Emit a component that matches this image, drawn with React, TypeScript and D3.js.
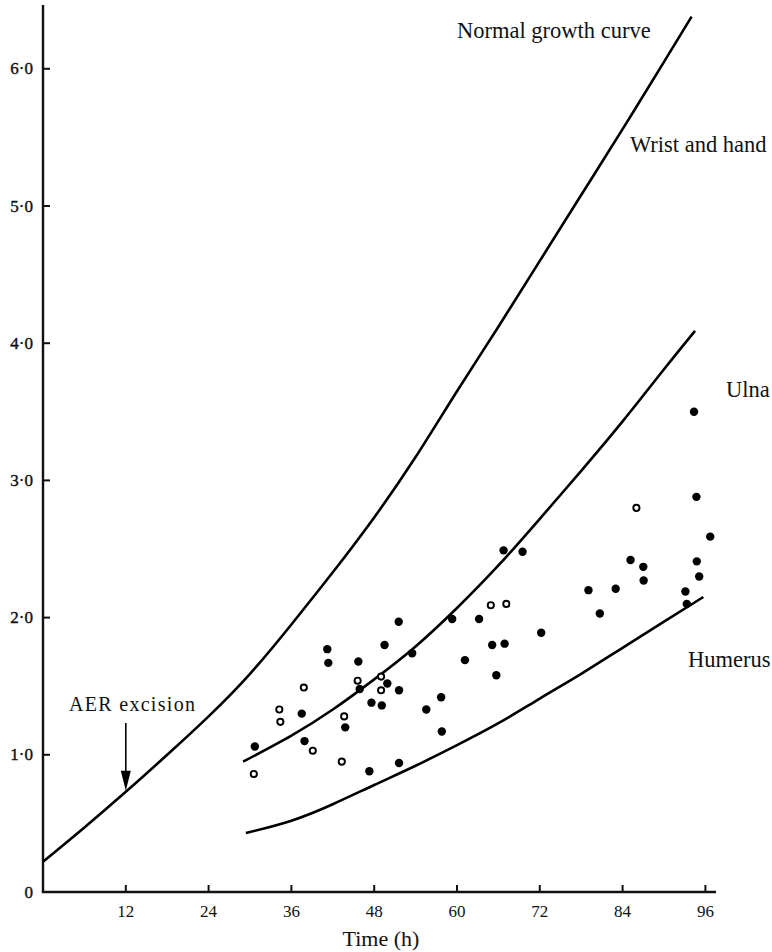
import React from "react";
import * as d3 from "d3";

// Growth curves (length against hours after operation)
const normalT = [0, 6, 12, 18, 24, 30, 36, 42, 48, 54, 60, 66, 72, 78, 84, 90, 94];
const normalV = [0.22, 0.47, 0.73, 1.0, 1.28, 1.59, 1.95, 2.33, 2.73, 3.17, 3.65, 4.12, 4.6, 5.08, 5.56, 6.05, 6.38];

const ulnaT = [29, 36, 42, 48, 54, 60, 66, 72, 78, 84, 90, 94.5];
const ulnaV = [0.95, 1.14, 1.33, 1.55, 1.79, 2.07, 2.38, 2.72, 3.07, 3.43, 3.81, 4.09];

const humerusT = [29.4, 36, 42, 48, 54, 60, 66, 72, 78, 84, 90, 95.7];
const humerusV = [0.43, 0.52, 0.64, 0.78, 0.92, 1.07, 1.23, 1.41, 1.59, 1.78, 1.97, 2.15];

// Operated limbs: filled dots
const filledT = [30.7, 37.5, 37.9, 41.2, 41.35, 43.8, 45.7, 45.9, 47.3, 47.6, 49.5, 49.9, 49.1, 51.55, 51.6, 51.6, 53.5, 55.55, 57.7, 57.8, 59.3, 61.15, 63.2, 65.1, 65.7, 66.75, 66.9, 69.5, 72.2, 79.05, 80.7, 83.0, 85.15, 87.0, 87.05, 93.1, 93.3, 94.35, 94.7, 94.75, 95.1, 96.7];
const filledV = [1.06, 1.3, 1.1, 1.77, 1.67, 1.2, 1.68, 1.48, 0.88, 1.38, 1.8, 1.52, 1.36, 1.97, 1.47, 0.94, 1.74, 1.33, 1.42, 1.17, 1.99, 1.69, 1.99, 1.8, 1.58, 2.49, 1.81, 2.48, 1.89, 2.2, 2.03, 2.21, 2.42, 2.37, 2.27, 2.19, 2.1, 3.5, 2.88, 2.41, 2.3, 2.59];

// Open circles
const openT = [30.55, 34.25, 34.4, 37.8, 39.1, 43.3, 43.65, 45.6, 49.0, 49.0, 64.9, 67.15, 86.0];
const openV = [0.86, 1.33, 1.24, 1.49, 1.03, 0.95, 1.28, 1.54, 1.57, 1.47, 2.09, 2.1, 2.8];

const xTicks = [12, 24, 36, 48, 60, 72, 84, 96];
const yTicks = [1, 2, 3, 4, 5, 6];
const yTickLabels = ["1·0", "2·0", "3·0", "4·0", "5·0", "6·0"];

const curveLabels = [
  { text: "Normal growth curve", x: 457, y: 38 },
  { text: "Wrist and hand", x: 630, y: 152 },
  { text: "Ulna", x: 726, y: 397 },
  { text: "Humerus", x: 688, y: 667 },
];

const W = 772;
const H = 952;
const serif = "'Liberation Serif', 'Times New Roman', serif";

export default function App() {
  const x = d3.scaleLinear().domain([0, 96]).range([43, 705.4]);
  const y = d3.scaleLinear().domain([0, 6]).range([892, 68.8]);

  const line = d3
    .line<[number, number]>()
    .x((d) => x(d[0]))
    .y((d) => y(d[1]))
    .curve(d3.curveNatural);

  const zip = (a: number[], b: number[]) => a.map((t, i) => [t, b[i]] as [number, number]);

  const x0 = x(0);
  const y0 = y(0);
  const axisColor = "#111";

  const arrowX = x(12);
  const arrowTip = y(0.73);

  return (
    <svg
      width={W}
      height={H}
      viewBox={`0 0 ${W} ${H}`}
      style={{ position: "absolute", left: 0, top: 0, background: "#fff" }}
      fontFamily={serif}
    >
      {/* axes */}
      <line x1={x0} y1={y0} x2={x0} y2={5} stroke={axisColor} strokeWidth={2.4} />
      <line x1={x0 - 1.2} y1={y0} x2={716} y2={y0} stroke={axisColor} strokeWidth={2.4} />

      {yTicks.map((v, i) => (
        <g key={"yt" + v}>
          <line x1={x0} x2={x0 + 7} y1={y(v)} y2={y(v)} stroke={axisColor} strokeWidth={2} />
          <text
            x={33}
            y={y(v)}
            textAnchor="end"
            dominantBaseline="central"
            fontSize={17}
            fill="#111"
            stroke="#111"
            strokeWidth={0.4}
          >
            {yTickLabels[i]}
          </text>
        </g>
      ))}
      <text x={33} y={y0} textAnchor="end" dominantBaseline="central" fontSize={17} fill="#111" stroke="#111" strokeWidth={0.4}>
        0
      </text>

      {xTicks.map((t) => (
        <g key={"xt" + t}>
          <line x1={x(t)} x2={x(t)} y1={y0} y2={y0 - 7} stroke={axisColor} strokeWidth={2} />
          <text x={x(t)} y={917} textAnchor="middle" fontSize={17} fill="#111">
            {t}
          </text>
        </g>
      ))}
      <text x={381} y={946} textAnchor="middle" fontSize={22} fill="#111">
        Time (h)
      </text>

      {/* curves */}
      {[zip(normalT, normalV), zip(ulnaT, ulnaV), zip(humerusT, humerusV)].map((pts, i) => (
        <path key={"c" + i} d={line(pts) || ""} fill="none" stroke="#000" strokeWidth={2.6} />
      ))}

      {/* data points */}
      {filledT.map((t, i) => (
        <circle key={"f" + i} cx={x(t)} cy={y(filledV[i])} r={4.2} fill="#000" />
      ))}
      {openT.map((t, i) => (
        <circle key={"o" + i} cx={x(t)} cy={y(openV[i])} r={3.1} fill="#fff" stroke="#000" strokeWidth={1.9} />
      ))}

      {/* AER excision marker */}
      <line x1={arrowX} x2={arrowX} y1={723} y2={arrowTip - 14} stroke="#000" strokeWidth={1.6} />
      <path
        d={`M${arrowX - 5},${arrowTip - 21} L${arrowX + 5},${arrowTip - 21} L${arrowX},${arrowTip - 1} Z`}
        fill="#000"
      />
      <text x={69} y={711} fontSize={20} letterSpacing={1.3} fill="#111">
        AER excision
      </text>

      {curveLabels.map((l) => (
        <text key={l.text} x={l.x} y={l.y} fontSize={22.5} fill="#111">
          {l.text}
        </text>
      ))}
    </svg>
  );
}
